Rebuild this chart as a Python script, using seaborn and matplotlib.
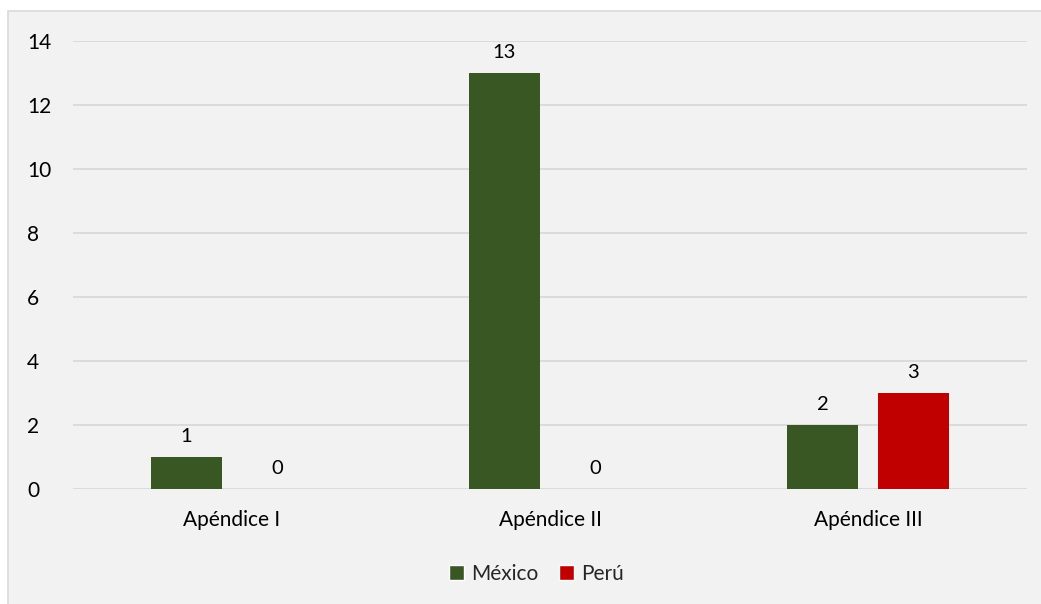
import pandas as pd
import seaborn as sns
import matplotlib.pyplot as plt
from matplotlib.patches import Rectangle, Patch

categorias = ["Apéndice I", "Apéndice II", "Apéndice III"]
mexico = [1, 13, 2]
peru = [0, 0, 3]
paises = ["México", "Perú"]
colores = {"México": "#385723", "Perú": "#C00000"}

df = pd.DataFrame({
    "apendice": categorias * 2,
    "valor": mexico + peru,
    "pais": ["México"] * 3 + ["Perú"] * 3,
})

sns.set_style("white")
plt.rcParams["font.family"] = ["Lato", "DejaVu Sans"]

fig = plt.figure(figsize=(10.41, 6.04), dpi=100, facecolor="white")
# fondo gris del área del gráfico
fig.patches.append(Rectangle((8 / 1041, -0.01), 1.02, 1 - 11 / 604 + 0.01,
                             transform=fig.transFigure, facecolor="#F2F2F2",
                             edgecolor="#D9D9D9", linewidth=1.2, zorder=-10))

ax = fig.add_axes([73 / 1041, 1 - 489 / 604, (1027 - 73) / 1041, (489 - 41) / 604])
ax.set_facecolor("none")

sns.barplot(data=df, x="apendice", y="valor", hue="pais", palette=colores,
            width=0.572, gap=0.22, saturation=1, linewidth=0, edgecolor="none",
            ax=ax, legend=False, zorder=3)

for cont in ax.containers:
    ax.bar_label(cont, padding=8.5, fontsize=14.5, color="#000000")

ax.set_ylim(0, 14)
ax.set_xlim(-0.5, 2.5)
ax.set_yticks(range(0, 15, 2))
ax.yaxis.grid(True, color="#D9D9D9", linewidth=1.3, zorder=0)
ax.set_axisbelow(True)
for s in ax.spines.values():
    s.set_visible(False)
ax.tick_params(axis="both", length=0, labelsize=15, colors="#000000")
ax.tick_params(axis="y", pad=33)
ax.tick_params(axis="x", pad=15)
for lbl in ax.get_yticklabels():
    lbl.set_horizontalalignment("left")
ax.set_xlabel("")
ax.set_ylabel("")

handles = [Patch(facecolor=colores[p], label=p) for p in paises]
fig.legend(handles=handles, loc="center", bbox_to_anchor=(0.515, 1 - 574 / 604),
           ncol=2, frameon=False, fontsize=15, handlelength=0.75, handleheight=0.75,
           handletextpad=0.3, columnspacing=1.0)

plt.savefig("out.png", dpi=100, facecolor="white")
